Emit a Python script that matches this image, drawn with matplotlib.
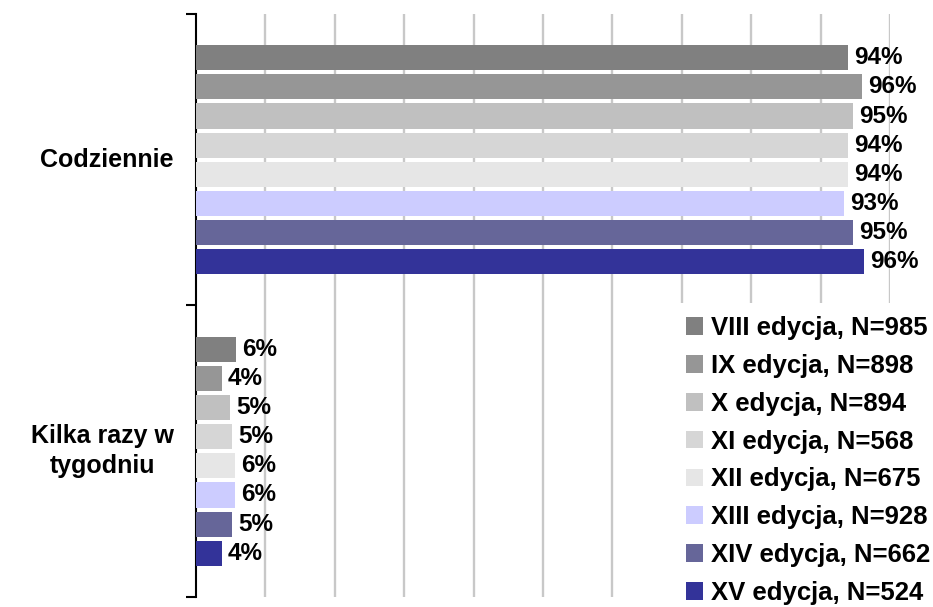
import matplotlib
matplotlib.use("Agg")
import matplotlib.pyplot as plt
from matplotlib.patches import Patch
import numpy as np

categories = ["Codziennie", "Kilka razy w\ntygodniu"]
series = ["VIII edycja, N=985", "IX edycja, N=898", "X edycja, N=894",
          "XI edycja, N=568", "XII edycja, N=675", "XIII edycja, N=928",
          "XIV edycja, N=662", "XV edycja, N=524"]
codziennie = [94.0, 96.0, 94.6, 94.0, 94.0, 93.3, 94.7, 96.3]
kilka_razy = [5.8, 3.7, 4.9, 5.2, 5.6, 5.6, 5.2, 3.7]
colors = ["#808080", "#969696", "#c0c0c0", "#d6d6d6", "#e6e6e6",
          "#ccccff", "#666699", "#333399"]

values = np.array([codziennie, kilka_razy])  # shape (cat, series)

plt.rcParams['font.family'] = ['Liberation Sans', 'DejaVu Sans']
plt.rcParams['font.weight'] = 'bold'

fig = plt.figure(figsize=(9.33, 6.07), dpi=100)
ax = fig.add_axes([196/933, 1 - 597/607, (890 - 196)/933, (597 - 14)/607])

pitch = 0.1
height = 0.086
n = len(series)
for i, (name, col) in enumerate(zip(series, colors)):
    ys = np.arange(len(categories)) + (i - (n - 1) / 2) * pitch
    vals = values[:, i]
    ax.barh(ys, vals, height=height, color=col, zorder=3)
    for y, v in zip(ys, vals):
        ax.text(v + 0.9, y, f"{v:.0f}%", va='center', ha='left',
                fontsize=17.5, fontweight='bold', zorder=4)

ax.set_xlim(0, 100)
ax.set_ylim(1.5, -0.5)
ax.set_xticks(np.arange(10, 101, 10))
ax.xaxis.grid(True, color="#c8c8c8", linewidth=1.7, zorder=0)
ax.set_axisbelow(True)
ax.tick_params(axis='x', length=0, labelbottom=False)

ax.set_yticks(range(len(categories)))
ax.set_yticklabels(categories, fontsize=18, fontweight='bold')
for lbl in ax.get_yticklabels():
    lbl.set_multialignment('center')
    lbl.set_verticalalignment('center')
    lbl.set_linespacing(1.3)
ax.set_yticks([-0.5, 0.5, 1.5], minor=True)
ax.tick_params(axis='y', which='major', length=0, pad=16)
ax.tick_params(axis='y', which='minor', length=7, width=1.5, direction='out')

for s in ['top', 'right', 'bottom']:
    ax.spines[s].set_visible(False)
ax.spines['left'].set_linewidth(1.5)
ax.spines['left'].set_color('black')

handles = [Patch(facecolor=c, edgecolor='none', label=s) for s, c in zip(series, colors)]
leg = fig.legend(handles=handles, loc='lower right', bbox_to_anchor=(1.011, -0.018),
                 bbox_transform=fig.transFigure, frameon=True, facecolor='white',
                 edgecolor='none', framealpha=1, borderaxespad=0,
                 borderpad=0.5, handlelength=0.68, handleheight=0.68,
                 handletextpad=0.3, labelspacing=0.54,
                 prop={'weight': 'bold', 'size': 18.5})
leg.set_zorder(5)

fig.savefig("out.png", dpi=100)
